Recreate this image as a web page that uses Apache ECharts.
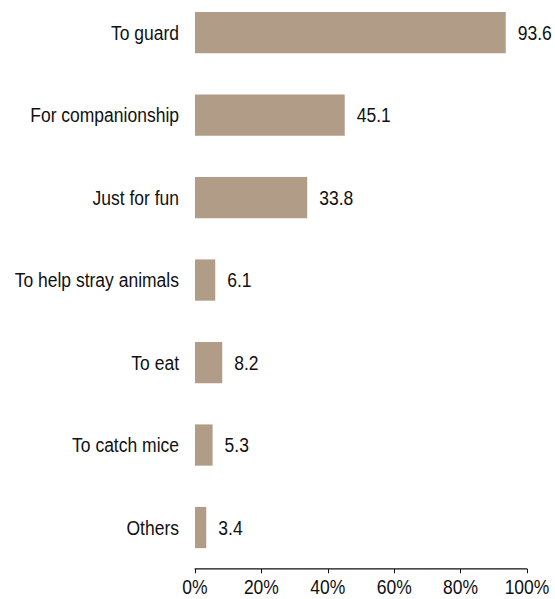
<!DOCTYPE html>
<html>
<head>
<meta charset="utf-8">
<script src="https://cdn.jsdelivr.net/npm/echarts@6/dist/echarts.min.js"></script>
<style>
  html, body { margin: 0; padding: 0; background: #fff; width: 555px; height: 599px; }
  /* chart is laid out at 555x508 and stretched vertically to fill the 599px page */
  #chart {
    width: 555px; height: 508px;
    transform: scaleY(1.1791);
    transform-origin: 0 0;
  }
</style>
</head>
<body>
<div id="chart"></div>
<script>
// Reasons for keeping the animal, share of respondents (%)
const categories = ['To guard', 'For companionship', 'Just for fun', 'To help stray animals', 'To eat', 'To catch mice', 'Others'];
const shares = [93.6, 45.1, 33.8, 6.1, 8.2, 5.3, 3.4];
const xTicks = [0, 20, 40, 60, 80, 100];

const FONT = '"Liberation Sans", Arial, Helvetica, sans-serif';
const FONT_SIZE = 17.5;
const TEXT = '#111';
const chart = echarts.init(document.getElementById('chart'), null, { renderer: 'svg' });

chart.setOption({
  animation: false,
  backgroundColor: '#ffffff',
  // categories sit on the grid edges; the value axis is pushed down below the last bar
  grid: { left: 195, right: 28, top: 27.6, bottom: 60.6, containLabel: false, outerBoundsMode: 'none' },
  xAxis: {
    type: 'value',
    min: xTicks[0],
    max: xTicks[xTicks.length - 1],
    interval: xTicks[1] - xTicks[0],
    offset: 35.2,
    axisLine: { show: true, lineStyle: { color: '#111', width: 1 } },
    axisTick: { show: true, length: 3.6, lineStyle: { color: '#111' } },
    splitLine: { show: false },
    axisLabel: {
      formatter: v => v + '%',
      color: TEXT, fontSize: FONT_SIZE, fontFamily: FONT,
      lineHeight: 17, margin: 7
    }
  },
  yAxis: {
    type: 'category',
    data: categories,
    inverse: true,
    boundaryGap: false,
    axisLine: { show: false },
    axisTick: { show: false },
    splitLine: { show: false },
    axisLabel: {
      color: TEXT, fontSize: FONT_SIZE, fontFamily: FONT, margin: 16,
      padding: [4, 0, 0, 0]
    }
  },
  series: [{
    type: 'bar',
    data: shares,
    barWidth: '50%',
    clip: false,
    itemStyle: { color: '#B19C87' },
    label: {
      show: true,
      position: 'right',
      distance: 12,
      color: TEXT,
      fontSize: FONT_SIZE,
      fontFamily: FONT,
      padding: [4, 0, 0, 0],
      formatter: p => p.value.toFixed(1)
    }
  }]
});
</script>
</body>
</html>
